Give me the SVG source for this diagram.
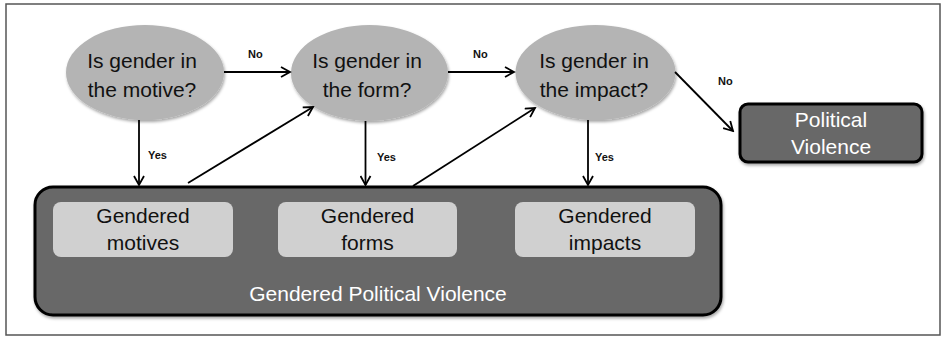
<svg xmlns="http://www.w3.org/2000/svg" width="945" height="338" viewBox="0 0 945 338">
<defs>
<marker id="arr" markerWidth="12" markerHeight="12" refX="10" refY="6" orient="auto" markerUnits="userSpaceOnUse">
<path d="M1,1 L10,6 L1,11" fill="none" stroke="#000" stroke-width="1.8"/>
</marker>
<filter id="sh" x="-10%" y="-10%" width="120%" height="130%">
<feDropShadow dx="1" dy="2" stdDeviation="1.5" flood-color="#000" flood-opacity="0.35"/>
</filter>
</defs>
<style>
.q{fill:#b4b4b4;filter:url(#sh)}
.qt{font-family:"Liberation Sans",Arial,sans-serif;font-size:21px;fill:#111;text-anchor:middle}
.dark{fill:#686868;stroke:#000;stroke-width:3;filter:url(#sh)}
.lt{fill:#d0d0d0}
.wt{font-family:"Liberation Sans",Arial,sans-serif;font-size:21px;fill:#fff;text-anchor:middle}
.bt{font-family:"Liberation Sans",Arial,sans-serif;font-size:21px;fill:#111;text-anchor:middle}
.lbl{font-family:"Liberation Sans",Arial,sans-serif;font-size:11px;font-weight:bold;fill:#111}
.c{stroke:#000;stroke-width:1.8;fill:none;marker-end:url(#arr)}
</style>
<rect x="0" y="0" width="945" height="338" fill="#fff"/>
<rect x="6" y="4" width="934" height="331" fill="none" stroke="#555" stroke-width="1.5"/>

<g id="gpv">
<rect class="dark" x="35" y="187" width="686" height="128" rx="18"/>
<text class="wt" x="378" y="301">Gendered Political Violence</text>
</g>
<g id="motives">
<rect class="lt" x="53" y="202" width="180" height="55" rx="8"/>
<text class="bt" x="143" y="223">Gendered</text>
<text class="bt" x="143" y="250">motives</text>
</g>
<g id="forms">
<rect class="lt" x="278" y="202" width="179" height="55" rx="8"/>
<text class="bt" x="367.5" y="223">Gendered</text>
<text class="bt" x="367.5" y="250">forms</text>
</g>
<g id="impacts">
<rect class="lt" x="515" y="202" width="180" height="55" rx="8"/>
<text class="bt" x="605" y="223">Gendered</text>
<text class="bt" x="605" y="250">impacts</text>
</g>

<g id="q1">
<ellipse class="q" cx="145" cy="72.5" rx="79" ry="47.5"/>
<text class="qt" x="142" y="68">Is gender in</text>
<text class="qt" x="142" y="97">the motive?</text>
</g>
<g id="q2">
<ellipse class="q" cx="369.5" cy="73" rx="78.5" ry="48"/>
<text class="qt" x="367" y="68">Is gender in</text>
<text class="qt" x="367" y="97">the form?</text>
</g>
<g id="q3">
<ellipse class="q" cx="595.5" cy="72.5" rx="80" ry="47.5"/>
<text class="qt" x="594" y="68">Is gender in</text>
<text class="qt" x="594" y="97">the impact?</text>
</g>
<g id="pv">
<rect class="dark" x="740" y="104" width="182" height="58" rx="8"/>
<text class="wt" x="831" y="127">Political</text>
<text class="wt" x="831" y="154">Violence</text>
</g>

<g id="connectors">
<line class="c" x1="224" y1="72" x2="290" y2="72"/>
<line class="c" x1="448" y1="72" x2="514" y2="72"/>
<line class="c" x1="675" y1="72" x2="733" y2="131"/>
<line class="c" x1="139" y1="120" x2="139" y2="185"/>
<line class="c" x1="365.5" y1="121" x2="365.5" y2="185"/>
<line class="c" x1="588" y1="120" x2="588" y2="185"/>
<line class="c" x1="188" y1="183" x2="313" y2="107"/>
<line class="c" x1="413" y1="186" x2="535" y2="108"/>
<text class="lbl" x="248" y="58">No</text>
<text class="lbl" x="473" y="58">No</text>
<text class="lbl" x="718" y="85">No</text>
<text class="lbl" x="148" y="159">Yes</text>
<text class="lbl" x="377" y="161">Yes</text>
<text class="lbl" x="595" y="161">Yes</text>
</g>
</svg>
